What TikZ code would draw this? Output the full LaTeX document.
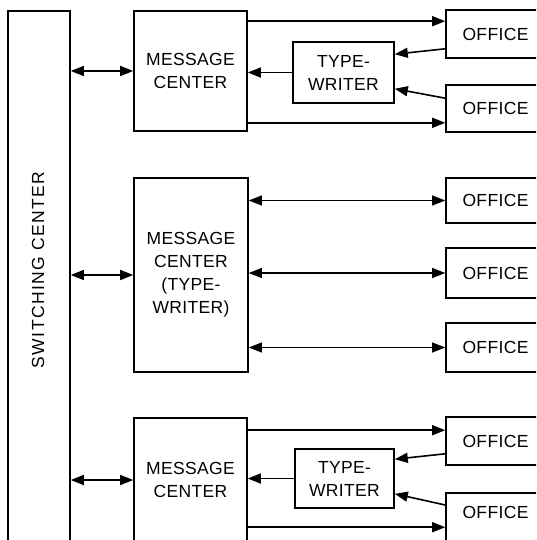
\documentclass[tikz,border=0pt]{standalone}
\usepackage{fontspec}
\setmainfont{Liberation Sans}
\newfontfamily\boxfont[LetterSpace=2]{Liberation Sans}
\newfontfamily\sidefont[LetterSpace=8]{Liberation Sans}
\usetikzlibrary{arrows.meta}

\begin{document}
\begin{tikzpicture}[x=1pt, y=-1pt,
    blk/.style={draw, line width=1.6pt, inner sep=0pt, align=center,
        font=\boxfont\fontsize{17.5}{23}\selectfont},
    office/.style={blk, minimum width=99pt},
    tip/.style={-{Triangle[length=13pt,width=10pt]}},
    link/.style={line width=1.6pt, tip},
    both/.style={line width=1.6pt, {Triangle[length=13pt,width=10pt]}-{Triangle[length=13pt,width=10pt]}},
    thin both/.style={both, line width=1.1pt}]
    \useasboundingbox (0,0) rectangle (536,540);
    \clip (0,0) rectangle (536,540);

    % switching center (runs off the bottom)
    \node[blk, minimum width=62pt, minimum height=559pt] (sw) at (39,290.5) {};
    \node[rotate=90, font=\sidefont\fontsize{17.5}{20}\selectfont] (swtext) at (38,270) {SWITCHING\hspace{6pt}CENTER};

    % top group
    \node[blk, minimum width=113pt, minimum height=120pt] (mc1) at (190.5,71) {MESSAGE\\CENTER};
    \node[blk, minimum width=101pt, minimum height=61pt] (tw1) at (343.5,72.5) {TYPE-\\WRITER};
    \node[office, minimum height=48pt] (of1) at (495.5,34) {OFFICE};
    \node[office, minimum height=47pt] (of2) at (495.5,108.5) {OFFICE};

    % middle group
    \node[blk, minimum width=114pt, minimum height=194pt] (mc2) at (191,275) {MESSAGE\\CENTER\\(TYPE-\\WRITER)};
    \node[office, minimum height=45pt] (of3) at (495.5,200.5) {OFFICE};
    \node[office, minimum height=50pt] (of4) at (495.5,273) {OFFICE};
    \node[office, minimum height=49pt] (of5) at (495.5,347.5) {OFFICE};

    % bottom group (runs off the bottom)
    \node[blk, minimum width=113pt, minimum height=124pt] (mc3) at (190.5,480) {MESSAGE\\CENTER};
    \node[blk, minimum width=99pt, minimum height=59pt] (tw3) at (344.5,478.5) {TYPE-\\WRITER};
    \node[office, minimum height=48pt] (of6) at (495.5,441) {OFFICE};
    \node[office, anchor=north, inner ysep=13pt, text height=12.5pt, text depth=40pt] (of7) at (495.5,492) {OFFICE};

    \coordinate (mc1t) at ([yshift=-11pt]mc1.north east);
    \coordinate (mc1b) at ([yshift=9pt]mc1.south east);
    \coordinate (mc3t) at ([yshift=-13pt]mc3.north east);
    \coordinate (mc3b) at ([yshift=-110pt]mc3.north east);

    % to the switching center
    \draw[both] (mc1.west) -- (mc1.west -| sw.east);
    \draw[both] (mc2.west) -- (mc2.west -| sw.east);
    \draw[both] (mc3.west) -- (mc3.west -| sw.east);

    % top group lines
    \draw[link] (mc1t) -- (mc1t -| of1.west);
    \draw[link] (mc1b) -- (mc1b -| of2.west);
    \draw[link] (tw1.west) -- (tw1.west -| mc1.east);
    \draw[link] ([yshift=10pt]of1.south west) -- ([yshift=-13pt]tw1.north east);
    \draw[link] ([yshift=-14pt]of2.north west) -- ([yshift=15pt]tw1.south east);

    % middle group lines
    \foreach \o in {of3,of4,of5}
        \draw[thin both] (\o.west) -- (\o.west -| mc2.east);

    % bottom group lines
    \draw[link] (mc3t) -- (mc3t -| of6.west);
    \draw[link] (mc3b) -- (mc3b -| of7.west);
    \draw[link] (tw3.west) -- (tw3.west -| mc3.east);
    \draw[link] ([yshift=12pt]of6.south west) -- ([yshift=-11pt]tw3.north east);
    \draw[link] ([yshift=-13pt]of7.north west) -- ([yshift=15pt]tw3.south east);
\end{tikzpicture}
\end{document}
